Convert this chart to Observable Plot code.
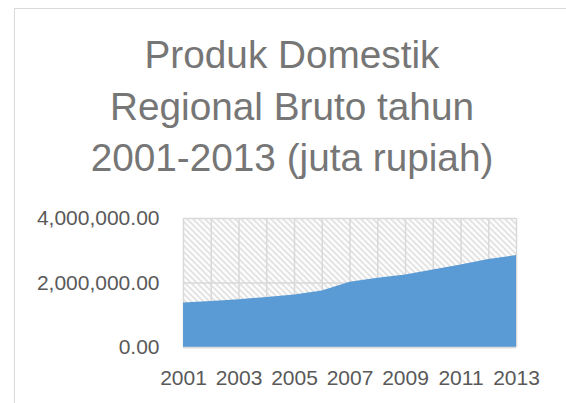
<!DOCTYPE html>
<html>
<head>
<meta charset="utf-8">
<script src="https://cdn.jsdelivr.net/npm/d3@7"></script>
<script src="https://cdn.jsdelivr.net/npm/@observablehq/plot@0.6"></script>
<style>
  html, body { margin: 0; padding: 0; background: #fff; }
  #wrap { position: relative; width: 566px; height: 403px; overflow: hidden; }
  #frame { position: absolute; left: 14px; top: 8px; width: 600px; height: 500px;
           border-left: 1.5px solid #d9d9d9; border-top: 1.5px solid #d9d9d9; }
  #title { position: absolute; left: 0; top: 0; width: 584px; height: 200px;
           text-align: center; color: #767676; font-family: "Liberation Sans", sans-serif; }
  #title div { position: absolute; left: 0; width: 100%; white-space: nowrap; }
  #chart { position: absolute; left: 0; top: 200px; }
</style>
</head>
<body>
<div id="wrap">
  <div id="frame"></div>
  <div id="title"></div>
  <div id="chart"></div>
</div>
<script>
const titleLines = ["Produk Domestik", "Regional Bruto tahun", "2001-2013 (juta rupiah)"];
const years = [2001, 2002, 2003, 2004, 2005, 2006, 2007, 2008, 2009, 2010, 2011, 2012, 2013];
const pdrb = [1380000, 1430000, 1480000, 1550000, 1630000, 1750000, 2020000, 2150000, 2250000, 2400000, 2560000, 2730000, 2850000];
const yTicks = [0, 2000000, 4000000];
const xTicks = [2001, 2003, 2005, 2007, 2009, 2011, 2013];

const data = years.map((year, i) => ({year, value: pdrb[i]}));

// Title: fit font size so the second line matches the reference width
const cv = document.createElement("canvas").getContext("2d");
cv.font = "100px 'Liberation Sans'";
const w = cv.measureText(titleLines[1]).width;
const fs = 100 * 364 / w;
const titleEl = document.getElementById("title");
const baselines = [69, 121, 172];
titleLines.forEach((t, i) => {
  const d = document.createElement("div");
  d.textContent = t;
  d.style.fontSize = fs + "px";
  d.style.lineHeight = fs + "px";
  d.style.top = (baselines[i] - fs * 0.86) + "px";
  titleEl.appendChild(d);
});

const plot = Plot.plot({
  width: 566,
  height: 203,
  marginTop: 18,
  marginBottom: 56,
  marginLeft: 183,
  marginRight: 50,
  style: {fontFamily: "'Liberation Sans', sans-serif", fontSize: "21px", color: "#595959", background: "transparent"},
  x: {domain: [2001, 2013]},
  y: {domain: [0, 4000000]},
  marks: [
    Plot.frame({fill: "url(#hatch)", stroke: "none"}),
    Plot.gridX(years, {stroke: "#d9d9d9", strokeOpacity: 1, strokeWidth: 1.5}),
    Plot.gridY(yTicks, {stroke: "#d9d9d9", strokeOpacity: 1, strokeWidth: 1.5}),
    Plot.areaY(data, {x: "year", y: "value", fill: "#5B9BD5"}),
    Plot.ruleY([0], {stroke: "#d9d9d9", strokeWidth: 1.5}),
    Plot.axisY({ticks: yTicks, tickFormat: d3.format(",.2f"), tickSize: 0, tickPadding: 24, label: null}),
    Plot.axisX({ticks: xTicks, tickFormat: d3.format("d"), tickSize: 0, tickPadding: 23, label: null})
  ]
});

const svg = d3.select(plot);
const defs = svg.insert("defs", ":first-child");
const pat = defs.append("pattern")
  .attr("id", "hatch")
  .attr("patternUnits", "userSpaceOnUse")
  .attr("width", 6).attr("height", 6);
pat.append("rect").attr("width", 6).attr("height", 6).attr("fill", "#ffffff");
pat.append("path")
  .attr("d", "M-1,-1 L7,7 M-1,5 L1,7 M5,-1 L7,1")
  .attr("stroke", "#d4d4d4")
  .attr("stroke-width", 1.3)
  .attr("fill", "none");

document.getElementById("chart").appendChild(plot);
</script>
</body>
</html>
